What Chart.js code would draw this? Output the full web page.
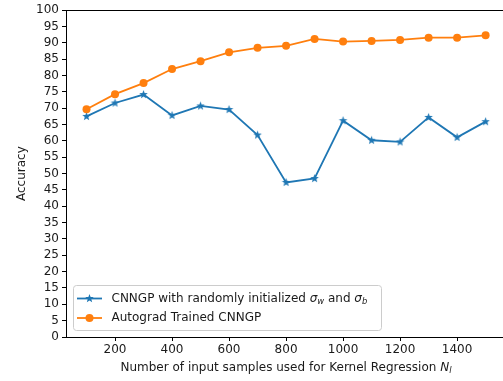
<!DOCTYPE html>
<html>
<head>
<meta charset="utf-8">
<script src="https://cdn.jsdelivr.net/npm/chart.js@4"></script>
<style>
  html, body { margin: 0; padding: 0; background: #fff; overflow: hidden; }
  #chart { display: block; }
</style>
</head>
<body>
<canvas id="chart" width="503" height="381"></canvas>
<script>
const sampleCounts = [100, 200, 300, 400, 500, 600, 700, 800, 900, 1000, 1100, 1200, 1300, 1400, 1500];
const randomInitAcc = [67.5, 71.6, 74.2, 67.8, 70.7, 69.6, 61.8, 47.3, 48.5, 66.2, 60.2, 59.7, 67.2, 61.1, 65.9];
const trainedAcc = [69.7, 74.3, 77.7, 82.0, 84.4, 87.1, 88.5, 89.1, 91.2, 90.4, 90.6, 90.9, 91.6, 91.6, 92.3];
const xTicks = [200, 400, 600, 800, 1000, 1200, 1400];

const blue = '#1f77b4';
const orange = '#ff7f0e';
const FONT = '"DejaVu Sans", sans-serif';
const TEXT = '#1a1a1a';
const FS = 12;

// matplotlib style filled star marker
function makeStar(r, color) {
    const c = document.createElement('canvas');
    const s = Math.ceil(r * 2 + 2);
    c.width = s; c.height = s;
    const g = c.getContext('2d');
    g.translate(s / 2, s / 2);
    g.beginPath();
    for (let i = 0; i < 10; i++) {
        const rad = i % 2 === 0 ? r : r * 0.42;
        const a = -Math.PI / 2 + i * Math.PI / 5;
        g.lineTo(rad * Math.cos(a), rad * Math.sin(a));
    }
    g.closePath();
    g.fillStyle = color;
    g.fill();
    return c;
}
const starImg = makeStar(4.5, blue);

// draw text parts: {t, it, sub}
function richText(ctx, parts, x, y, align) {
    const measure = p => {
        ctx.font = (p.it ? 'italic ' : '') + (p.sub ? FS * 0.7 : FS) + 'px ' + FONT;
        return ctx.measureText(p.t).width;
    };
    const total = parts.reduce((s, p) => s + measure(p), 0);
    let cx = align === 'center' ? x - total / 2 : x;
    ctx.textBaseline = 'middle';
    ctx.textAlign = 'left';
    ctx.fillStyle = TEXT;
    parts.forEach(p => {
        const w = measure(p);
        ctx.fillText(p.t, cx, p.sub ? y + 3 : y);
        cx += w;
    });
}

const decorations = {
    id: 'decorations',
    afterDraw(chart) {
        const ctx = chart.ctx;
        const a = chart.chartArea;
        ctx.save();
        // top spine (right spine falls just outside the picture)
        ctx.strokeStyle = '#000';
        ctx.lineWidth = 1;
        ctx.beginPath();
        ctx.moveTo(Math.round(a.left), Math.round(a.top) + 0.5);
        ctx.lineTo(a.right, Math.round(a.top) + 0.5);
        ctx.stroke();

        // axis titles
        richText(ctx, [
            { t: 'Number of input samples used for Kernel Regression ' },
            { t: 'N', it: true },
            { t: 'l', it: true, sub: true }
        ], 286, 368, 'center');

        ctx.save();
        ctx.translate(22, (a.top + a.bottom) / 2);
        ctx.rotate(-Math.PI / 2);
        richText(ctx, [{ t: 'Accuracy' }], 0, 0, 'center');
        ctx.restore();

        // legend
        const lx = 73, ly = 285, lw = 308, lh = 45;
        ctx.beginPath();
        ctx.roundRect(lx + 0.5, ly + 0.5, lw, lh, 3);
        ctx.fillStyle = 'rgba(255,255,255,0.8)';
        ctx.fill();
        ctx.strokeStyle = '#cccccc';
        ctx.lineWidth = 1;
        ctx.stroke();

        const rows = [
            { y: 298.5, color: blue, star: true, parts: [
                { t: 'CNNGP with randomly initialized ' },
                { t: 'σ', it: true }, { t: 'w', it: true, sub: true },
                { t: ' and ' },
                { t: 'σ', it: true }, { t: 'b', it: true, sub: true }
            ] },
            { y: 318, color: orange, star: false, parts: [{ t: 'Autograd Trained CNNGP' }] }
        ];
        rows.forEach(r => {
            ctx.beginPath();
            ctx.moveTo(77, r.y);
            ctx.lineTo(102, r.y);
            ctx.strokeStyle = r.color;
            ctx.lineWidth = 1.8;
            ctx.stroke();
            if (r.star) {
                ctx.drawImage(starImg, 89.5 - starImg.width / 2, r.y - starImg.height / 2);
            } else {
                ctx.beginPath();
                ctx.arc(89.5, r.y, 4, 0, Math.PI * 2);
                ctx.fillStyle = r.color;
                ctx.fill();
            }
            richText(ctx, r.parts, 111.5, r.y, 'left');
        });
        ctx.restore();
    }
};

new Chart(document.getElementById('chart'), {
    type: 'line',
    data: {
        datasets: [
            {
                label: 'CNNGP with randomly initialized σw and σb',
                data: sampleCounts.map((x, i) => ({ x, y: randomInitAcc[i] })),
                borderColor: blue,
                backgroundColor: blue,
                borderWidth: 1.8,
                pointStyle: starImg,
                pointRadius: 4,
                tension: 0,
                order: 1
            },
            {
                label: 'Autograd Trained CNNGP',
                data: sampleCounts.map((x, i) => ({ x, y: trainedAcc[i] })),
                borderColor: orange,
                backgroundColor: orange,
                borderWidth: 1.8,
                pointStyle: 'circle',
                pointRadius: 4,
                pointBorderWidth: 0,
                tension: 0,
                order: 0
            }
        ]
    },
    options: {
        responsive: false,
        animation: false,
        devicePixelRatio: 1,
        layout: { autoPadding: false, padding: { top: 9, right: 0, left: 0, bottom: 0 } },
        plugins: {
            legend: { display: false },
            tooltip: { enabled: false }
        },
        scales: {
            x: {
                type: 'linear',
                min: 28,
                max: 1561,
                afterBuildTicks: scale => { scale.ticks = xTicks.map(v => ({ value: v })); },
                afterFit: scale => { scale.height = 44; },
                grid: { drawOnChartArea: false, drawTicks: true, tickLength: 4, color: '#000' },
                border: { display: true, color: '#000' },
                ticks: { color: TEXT, font: { family: FONT, size: FS }, padding: 2, maxRotation: 0, autoSkip: false,
                    callback: v => String(v) }
            },
            y: {
                min: 0,
                max: 100,
                afterFit: scale => { scale.width = 66; },
                grid: { drawOnChartArea: false, drawTicks: true, tickLength: 4, color: '#000' },
                border: { display: true, color: '#000' },
                ticks: { stepSize: 5, color: TEXT, font: { family: FONT, size: FS }, padding: 3, autoSkip: false,
                    callback: v => String(v) }
            }
        }
    },
    plugins: [decorations]
});
</script>
</body>
</html>
